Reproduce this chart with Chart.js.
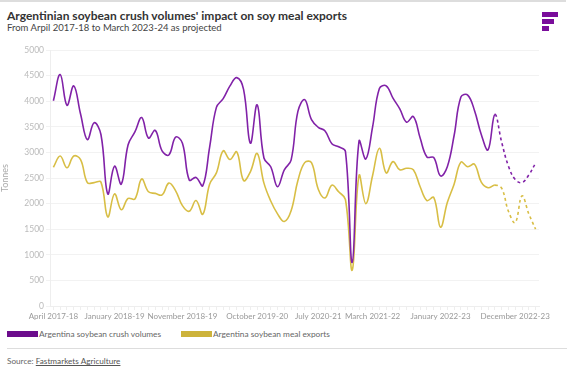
<html>
<head>
  <title>Argentinian soybean crush</title>
  <script src="https://cdn.jsdelivr.net/npm/chart.js"></script>
  <style>
    body { margin: 0; background: #fff; font-family: Lato, Arial; width: 577px; height: 374px; overflow: hidden; position: relative; }
    .topline { position: absolute; left: 0; top: 0; width: 566px; height: 2px; background: #ddd; }
    h1 { position: absolute; left: 7px; top: 8px; margin: 0; font-size: 12px; font-weight: 700; color: #333; }
    .sub { position: absolute; left: 7px; top: 22px; font-size: 9.5px; color: #444; }
    .logo div { position: absolute; left: 542px; height: 5px; background: #7a0d9b; }
    .wrap { position: absolute; left: 0; top: 40px; width: 560px; height: 284px; }
    .legend { position: absolute; top: 329px; font-size: 8.3px; color: #666; }
    .legend span { display: inline-block; width: 31px; height: 6px; margin-right: 1px; vertical-align: 0px; }
    .sep { position: absolute; left: 7px; top: 348px; width: 560px; height: 1px; background: #ddd; }
    .src { position: absolute; left: 7px; top: 356px; font-size: 8.2px; color: #666; }
    .src u { color: #555; }
  </style>
</head>
<body>
  <div class="topline"></div>
  <h1>Argentinian soybean crush volumes' impact on soy meal exports</h1>
  <div class="sub">From Arpil 2017-18 to March 2023-24 as projected</div>
  <div class="logo">
    <div style="top:12px;width:16px"></div>
    <div style="top:19px;width:12px"></div>
    <div style="top:26px;width:7px"></div>
  </div>

  <div class="wrap"><canvas id="Chart"></canvas></div>

  <div class="legend" style="left:7px"><span style="background:#6c0c8c"></span>Argentina soybean crush volumes</div>
  <div class="legend" style="left:181px"><span style="background:#cdb33b"></span>Argentina soybean meal exports</div>
  <div class="sep"></div>
  <div class="src">Source: <u>Fastmarkets Agriculture</u></div>

  <script>
const labels = [
  'April 2017-18', 'May 2017-18', 'June 2017-18', 'July 2017-18', 'August 2017-18', 'September 2017-18', 'October 2017-18', 'November 2017-18', 'December 2017-18',
  'January 2018-19', 'February 2018-19', 'March 2018-19', 'April 2018-19', 'May 2018-19', 'June 2018-19', 'July 2018-19', 'August 2018-19', 'September 2018-19', 'October 2018-19', 'November 2018-19', 'December 2018-19',
  'January 2019-20', 'February 2019-20', 'March 2019-20', 'April 2019-20', 'May 2019-20', 'June 2019-20', 'July 2019-20', 'August 2019-20', 'September 2019-20', 'October 2019-20', 'November 2019-20', 'December 2019-20',
  'January 2020-21', 'February 2020-21', 'March 2020-21', 'April 2020-21', 'May 2020-21', 'June 2020-21', 'July 2020-21', 'August 2020-21', 'September 2020-21', 'October 2020-21', 'November 2020-21', 'December 2020-21',
  'January 2021-22', 'February 2021-22', 'March 2021-22', 'April 2021-22', 'May 2021-22', 'June 2021-22', 'July 2021-22', 'August 2021-22', 'September 2021-22', 'October 2021-22', 'November 2021-22', 'December 2021-22',
  'January 2022-23', 'February 2022-23', 'March 2022-23', 'April 2022-23', 'May 2022-23', 'June 2022-23', 'July 2022-23', 'August 2022-23', 'September 2022-23', 'October 2022-23', 'November 2022-23', 'December 2022-23',
  'January 2023-24', 'February 2023-24', 'March 2023-24'
];

// tonnes (thousands)
const crushVolumes = [
  4010, 4520, 3920, 4300, 3750, 3250, 3580, 3350, 2190,
  2730, 2380, 3150, 3400, 3680, 3280, 3430, 3030, 2950, 3300, 3180, 2460,
  2510, 2350, 3100, 3880, 4050, 4300, 4460, 4230, 3180, 3930, 2890, 2720,
  2330, 2660, 2850, 3800, 4030, 3640, 3490, 3420, 3170, 3110, 3020, 850,
  3220, 2870, 3500, 4250, 4300, 4060, 3850, 3590, 3700, 3280, 2910, 2900,
  2540, 2720, 3330, 4080, 4120, 3820, 3350, 3050, 3740, 3200, 2730, 2470,
  2410, 2560, 2790
];
const mealExports = [
  2710, 2930, 2700, 2930, 2860, 2410, 2410, 2420, 1740,
  2190, 1880, 2100, 2090, 2480, 2230, 2200, 2170, 2400, 2250, 1960, 1850,
  2060, 1790, 2380, 2600, 3030, 2860, 3010, 2450, 2620, 2980, 2400, 2050,
  1800, 1650, 1860, 2450, 2800, 2800, 2280, 2110, 2360, 2230, 2080, 700,
  2550, 2000, 2550, 3080, 2600, 2820, 2660, 2690, 2660, 2330, 2060, 2120,
  1540, 2020, 2380, 2810, 2720, 2770, 2420, 2310, 2360, 2300, 1850, 1630,
  2150, 1800, 1500
];

const shownTicks = ['April 2017-18', 'January 2018-19', 'November 2018-19', 'October 2019-20', 'July 2020-21', 'March 2021-22', 'January 2022-23', 'December 2022-23'];
const projectedFrom = labels.indexOf('September 2022-23');

const dashed = ctx => ctx.p0DataIndex >= projectedFrom ? [3, 3] : undefined;

const config = {
  type: 'line',
  data: {
    labels: labels,
    datasets: [
      { label: 'Argentina soybean crush volumes', data: crushVolumes, borderColor: '#8122a8', borderWidth: 1.6, segment: { borderDash: dashed } },
      { label: 'Argentina soybean meal exports', data: mealExports, borderColor: '#d8be45', borderWidth: 1.6, segment: { borderDash: dashed } }
    ]
  },
  options: {
    responsive: true,
    maintainAspectRatio: false,
    animation: false,
    layout: { padding: { top: 10, right: 21, bottom: 0, left: 0 } },
    elements: { point: { radius: 0 }, line: { tension: 0.4 } },
    scales: {
      x: {
        offset: true,
        grid: { offset: false, drawOnChartArea: false, tickLength: 4, color: '#eee' },
        border: { color: '#eee' },
        ticks: {
          autoSkip: false, maxRotation: 0, padding: 2,
          color: '#999', font: { family: 'Lato', size: 8 },
          callback: function (v) { const l = this.getLabelForValue(v); return shownTicks.includes(l) ? l : ''; }
        },
        afterFit: s => { s.height = 18; }
      },
      y: {
        min: 0, max: 5000,
        grid: { color: '#f2f2f2', tickLength: 4 },
        border: { color: '#eee' },
        ticks: { stepSize: 500, color: '#bbb', padding: 2, font: { family: 'Lato', size: 8.5 }, callback: v => String(v) },
        title: { display: true, text: 'Tonnes', color: '#aaa', font: { family: 'Lato', size: 9 }, padding: 0 },
        afterFit: s => { s.width = 50; }
      }
    },
    plugins: { legend: { display: false }, tooltip: { enabled: false } }
  }
};

window.addEventListener('load', () => {
  new Chart(document.getElementById('Chart').getContext('2d'), config);
});
  </script>
</body>
</html>
